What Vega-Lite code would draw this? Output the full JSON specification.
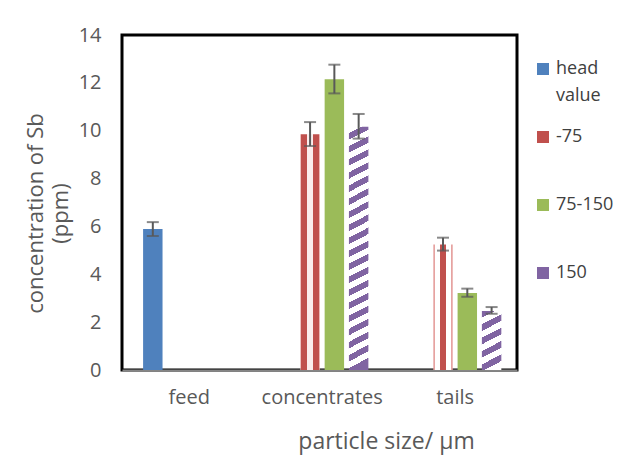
{
  "$schema": "https://vega.github.io/schema/vega-lite/v6.json",
  "autosize": {"type": "none"},
  "padding": {"left": 122, "top": 35, "right": 108, "bottom": 97},
  "width": 395,
  "height": 335,
  "background": "white",
  "config": {
    "font": "Open Sans",
    "view": {"stroke": "#000000", "strokeWidth": 3},
    "axis": {"labelColor": "#595959", "titleColor": "#595959", "titleFontWeight": "normal", "grid": false, "ticks": false}
  },
  "data": {
    "values": [
      {"category": "feed", "series": "head value", "value": 5.89, "lo": 5.6, "hi": 6.18},
      {"category": "concentrates", "series": "-75", "value": 9.85, "lo": 9.36, "hi": 10.36},
      {"category": "concentrates", "series": "75-150", "value": 12.15, "lo": 11.56, "hi": 12.76},
      {"category": "concentrates", "series": "150", "value": 10.17, "lo": 9.67, "hi": 10.7},
      {"category": "tails", "series": "-75", "value": 5.25, "lo": 4.99, "hi": 5.53},
      {"category": "tails", "series": "75-150", "value": 3.22, "lo": 3.06, "hi": 3.4},
      {"category": "tails", "series": "150", "value": 2.47, "lo": 2.35, "hi": 2.63}
    ]
  },
  "encoding": {
    "x": {
      "field": "category", "type": "nominal",
      "sort": ["feed", "concentrates", "tails"],
      "scale": {"domain": ["feed", "concentrates", "tails"], "paddingInner": 0.269, "paddingOuter": 0.12, "align": 0.585},
      "title": "particle size/ µm",
      "axis": {
        "labelAngle": 0, "labelFontSize": 20, "labelPadding": 17,
        "domainColor": "#868686", "domainWidth": 2,
        "titleFontSize": 23, "titleX": 264, "titleY": 78, "titleBaseline": "alphabetic", "titleAlign": "center"
      }
    },
    "xOffset": {
      "field": "series", "type": "nominal",
      "scale": {"domain": ["head value", "-75", "75-150", "150"], "paddingInner": 0.2, "paddingOuter": 0.1}
    }
  },
  "layer": [
    {
      "transform": [{"filter": {"field": "series", "oneOf": ["head value", "75-150"]}}],
      "mark": {"type": "bar"},
      "encoding": {
        "y": {
          "field": "value", "type": "quantitative",
          "scale": {"domain": [0, 14], "nice": false},
          "title": ["concentration of Sb", "(ppm)"],
          "axis": {
            "values": [0, 2, 4, 6, 8, 10, 12, 14], "domain": false, "labelFontSize": 20, "labelPadding": 21,
            "titleFontSize": 22, "titleLineHeight": 25, "titleX": -80, "titleY": 178, "titleBaseline": "alphabetic", "titleAlign": "center", "titleAngle": -90
          }
        },
        "color": {
          "field": "series", "type": "nominal",
          "scale": {"domain": ["head value", "-75", "75-150", "150"], "range": ["#4F81BD", "#C0504D", "#9BBB59", "#8064A2"]},
          "legend": {
            "title": null, "orient": "none", "legendX": 412, "legendY": 25,
            "symbolType": "square", "symbolSize": 144, "symbolStrokeWidth": 0,
            "labelFontSize": 18, "labelColor": "#404040", "labelOffset": 4, "rowPadding": 23, "padding": 0,
            "labelExpr": "datum.label == 'head value' ? ['head', 'value'] : [datum.label, '']",
            "labelLimit": 200,
            "encode": {
              "labels": {
                "update": {"lineHeight": {"value": 27}}
              }
            }
          }
        }
      }
    },
    {
      "transform": [{"filter": "datum.category === 'concentrates' && datum.series === '-75'"}],
      "mark": {"type": "bar", "fill": {"gradient": "linear", "x1": 0, "y1": 0, "x2": 1, "y2": 0, "stops": [{"offset": 0, "color": "#E6A3A1"}, {"offset": 0.05, "color": "#E6A3A1"}, {"offset": 0.05, "color": "#C0504D"}, {"offset": 0.35, "color": "#C0504D"}, {"offset": 0.35, "color": "#FBEDED"}, {"offset": 0.64, "color": "#FBEDED"}, {"offset": 0.64, "color": "#C0504D"}, {"offset": 0.95, "color": "#C0504D"}, {"offset": 0.95, "color": "#E6A3A1"}, {"offset": 1, "color": "#E6A3A1"}]}},
      "encoding": {"y": {"field": "value", "type": "quantitative"}}
    },
    {
      "transform": [{"filter": "datum.category === 'tails' && datum.series === '-75'"}],
      "mark": {"type": "bar", "fill": {"gradient": "linear", "x1": 0, "y1": 0, "x2": 1, "y2": 0, "stops": [{"offset": 0, "color": "#E6A3A1"}, {"offset": 0.07, "color": "#E6A3A1"}, {"offset": 0.07, "color": "#FFFFFF"}, {"offset": 0.33, "color": "#FFFFFF"}, {"offset": 0.33, "color": "#C0504D"}, {"offset": 0.65, "color": "#C0504D"}, {"offset": 0.65, "color": "#FFFFFF"}, {"offset": 0.9, "color": "#FFFFFF"}, {"offset": 0.9, "color": "#E6A3A1"}, {"offset": 1, "color": "#E6A3A1"}]}},
      "encoding": {"y": {"field": "value", "type": "quantitative"}}
    },
    {
      "transform": [{"filter": "datum.category === 'concentrates' && datum.series === '150'"}],
      "mark": {"type": "bar", "fill": {"gradient": "linear", "x1": 0, "y1": 0, "x2": 0.041, "y2": 1, "stops": [
        {"offset": 0, "color": "#ffffff"}, {"offset": 0.0268, "color": "#ffffff"}, {"offset": 0.0268, "color": "#8064A2"}, {"offset": 0.0535, "color": "#8064A2"},
        {"offset": 0.0535, "color": "#ffffff"}, {"offset": 0.0803, "color": "#ffffff"}, {"offset": 0.0803, "color": "#8064A2"}, {"offset": 0.107, "color": "#8064A2"},
        {"offset": 0.107, "color": "#ffffff"}, {"offset": 0.1338, "color": "#ffffff"}, {"offset": 0.1338, "color": "#8064A2"}, {"offset": 0.1605, "color": "#8064A2"},
        {"offset": 0.1605, "color": "#ffffff"}, {"offset": 0.1873, "color": "#ffffff"}, {"offset": 0.1873, "color": "#8064A2"}, {"offset": 0.214, "color": "#8064A2"},
        {"offset": 0.214, "color": "#ffffff"}, {"offset": 0.2408, "color": "#ffffff"}, {"offset": 0.2408, "color": "#8064A2"}, {"offset": 0.2675, "color": "#8064A2"},
        {"offset": 0.2675, "color": "#ffffff"}, {"offset": 0.2943, "color": "#ffffff"}, {"offset": 0.2943, "color": "#8064A2"}, {"offset": 0.321, "color": "#8064A2"},
        {"offset": 0.321, "color": "#ffffff"}, {"offset": 0.3478, "color": "#ffffff"}, {"offset": 0.3478, "color": "#8064A2"}, {"offset": 0.3745, "color": "#8064A2"},
        {"offset": 0.3745, "color": "#ffffff"}, {"offset": 0.4013, "color": "#ffffff"}, {"offset": 0.4013, "color": "#8064A2"}, {"offset": 0.428, "color": "#8064A2"},
        {"offset": 0.428, "color": "#ffffff"}, {"offset": 0.4548, "color": "#ffffff"}, {"offset": 0.4548, "color": "#8064A2"}, {"offset": 0.4815, "color": "#8064A2"},
        {"offset": 0.4815, "color": "#ffffff"}, {"offset": 0.5083, "color": "#ffffff"}, {"offset": 0.5083, "color": "#8064A2"}, {"offset": 0.535, "color": "#8064A2"},
        {"offset": 0.535, "color": "#ffffff"}, {"offset": 0.5618, "color": "#ffffff"}, {"offset": 0.5618, "color": "#8064A2"}, {"offset": 0.5885, "color": "#8064A2"},
        {"offset": 0.5885, "color": "#ffffff"}, {"offset": 0.6153, "color": "#ffffff"}, {"offset": 0.6153, "color": "#8064A2"}, {"offset": 0.642, "color": "#8064A2"},
        {"offset": 0.642, "color": "#ffffff"}, {"offset": 0.6688, "color": "#ffffff"}, {"offset": 0.6688, "color": "#8064A2"}, {"offset": 0.6955, "color": "#8064A2"},
        {"offset": 0.6955, "color": "#ffffff"}, {"offset": 0.7223, "color": "#ffffff"}, {"offset": 0.7223, "color": "#8064A2"}, {"offset": 0.749, "color": "#8064A2"},
        {"offset": 0.749, "color": "#ffffff"}, {"offset": 0.7758, "color": "#ffffff"}, {"offset": 0.7758, "color": "#8064A2"}, {"offset": 0.8025, "color": "#8064A2"},
        {"offset": 0.8025, "color": "#ffffff"}, {"offset": 0.8293, "color": "#ffffff"}, {"offset": 0.8293, "color": "#8064A2"}, {"offset": 0.856, "color": "#8064A2"},
        {"offset": 0.856, "color": "#ffffff"}, {"offset": 0.8828, "color": "#ffffff"}, {"offset": 0.8828, "color": "#8064A2"}, {"offset": 0.9095, "color": "#8064A2"},
        {"offset": 0.9095, "color": "#ffffff"}, {"offset": 0.9363, "color": "#ffffff"}, {"offset": 0.9363, "color": "#8064A2"}, {"offset": 0.963, "color": "#8064A2"},
        {"offset": 0.963, "color": "#ffffff"}, {"offset": 0.9898, "color": "#ffffff"}, {"offset": 0.9898, "color": "#8064A2"}, {"offset": 1, "color": "#8064A2"}
      ]}},
      "encoding": {"y": {"field": "value", "type": "quantitative"}}
    },
    {
      "transform": [{"filter": "datum.category === 'tails' && datum.series === '150'"}],
      "mark": {"type": "bar", "fill": {"gradient": "linear", "x1": 0, "y1": 0, "x2": 0.17, "y2": 1, "stops": [
        {"offset": 0, "color": "#8064A2"}, {"offset": 0.11, "color": "#8064A2"}, {"offset": 0.11, "color": "#ffffff"}, {"offset": 0.22, "color": "#ffffff"},
        {"offset": 0.22, "color": "#8064A2"}, {"offset": 0.33, "color": "#8064A2"}, {"offset": 0.33, "color": "#ffffff"}, {"offset": 0.44, "color": "#ffffff"},
        {"offset": 0.44, "color": "#8064A2"}, {"offset": 0.55, "color": "#8064A2"}, {"offset": 0.55, "color": "#ffffff"}, {"offset": 0.66, "color": "#ffffff"},
        {"offset": 0.66, "color": "#8064A2"}, {"offset": 0.77, "color": "#8064A2"}, {"offset": 0.77, "color": "#ffffff"}, {"offset": 0.88, "color": "#ffffff"},
        {"offset": 0.88, "color": "#8064A2"}, {"offset": 0.99, "color": "#8064A2"}, {"offset": 0.99, "color": "#ffffff"}, {"offset": 1, "color": "#ffffff"}
      ]}},
      "encoding": {"y": {"field": "value", "type": "quantitative"}}
    },
    {
      "mark": {"type": "rule", "color": "#595959", "strokeWidth": 2},
      "encoding": {"y": {"field": "lo", "type": "quantitative"}, "y2": {"field": "hi"}}
    },
    {
      "mark": {"type": "tick", "color": "#595959", "thickness": 2, "size": 12},
      "encoding": {"y": {"field": "lo", "type": "quantitative"}}
    },
    {
      "mark": {"type": "tick", "color": "#595959", "thickness": 2, "size": 12},
      "encoding": {"y": {"field": "hi", "type": "quantitative"}}
    }
  ]
}
